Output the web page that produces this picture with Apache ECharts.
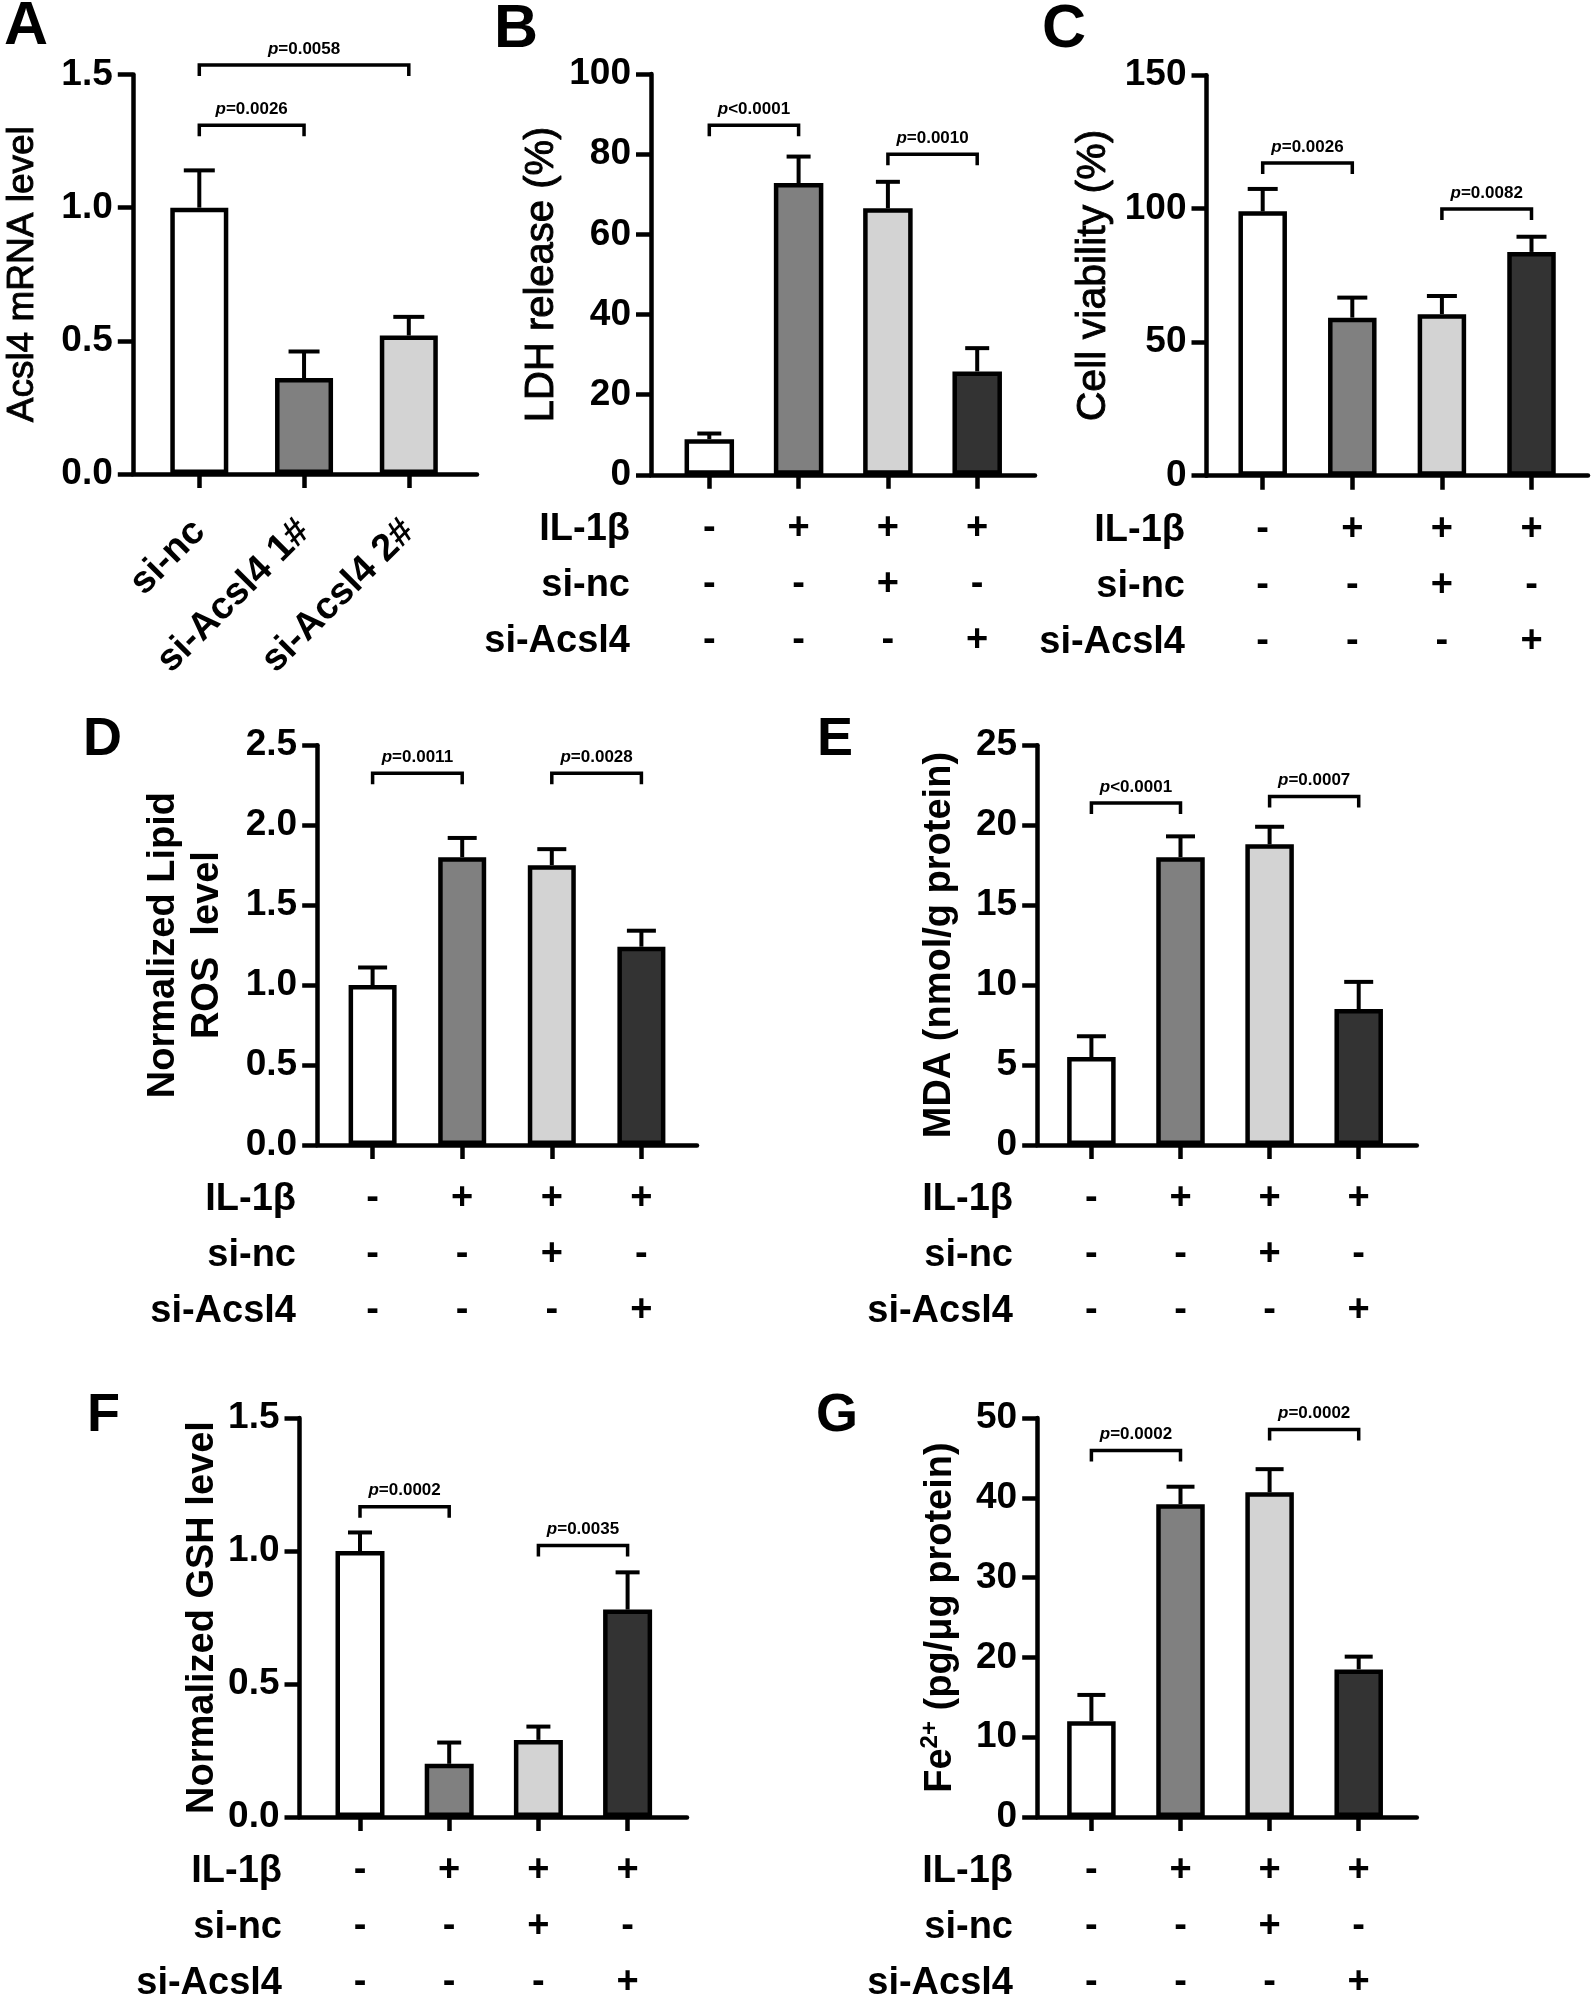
<!DOCTYPE html>
<html><head><meta charset="utf-8">
<script src="https://cdn.jsdelivr.net/npm/echarts@6/dist/echarts.min.js"></script>
<style>html,body{margin:0;padding:0;background:#fff}#chart{width:1593px;height:2002px}</style>
</head><body><div id="chart"></div>
<script>
// ---------------- DATA ----------------
const catsA = ['si-nc', 'si-Acsl4 1#', 'si-Acsl4 2#'];
const mrnaMean = [1.00, 0.36, 0.52];
const mrnaUpper = [1.14, 0.46, 0.59];

const il1b = ['-', '+', '+', '+'];
const siNc = ['-', '-', '+', '-'];
const siAcsl4 = ['-', '-', '-', '+'];
const rowNames = ['IL-1β', 'si-nc', 'si-Acsl4'];

const ldhMean = [8.9, 72.8, 66.5, 25.8];
const ldhUpper = [10.3, 79.4, 73.1, 31.6];
const viabMean = [99, 59.2, 60.5, 83.8];
const viabUpper = [107.4, 66.7, 67.3, 89.5];
const rosMean = [1.00, 1.80, 1.75, 1.24];
const rosUpper = [1.11, 1.92, 1.85, 1.34];
const mdaMean = [5.5, 18.0, 18.8, 8.5];
const mdaUpper = [6.8, 19.3, 19.9, 10.2];
const gshMean = [1.00, 0.20, 0.29, 0.78];
const gshUpper = [1.07, 0.28, 0.34, 0.92];
const feMean = [12.0, 39.2, 40.7, 18.5];
const feUpper = [15.3, 41.4, 43.6, 20.1];

const ticksA = [0, 0.5, 1.0, 1.5];
const ticksB = [0, 20, 40, 60, 80, 100];
const ticksC = [0, 50, 100, 150];
const ticksD = [0, 0.5, 1.0, 1.5, 2.0, 2.5];
const ticksE = [0, 5, 10, 15, 20, 25];
const ticksF = [0, 0.5, 1.0, 1.5];
const ticksG = [0, 10, 20, 30, 40, 50];

// significance brackets: group indices, bracket height (data units), p text
const sigA = [{from: 0, to: 1, y: 1.309, p: '=0.0026'}, {from: 0, to: 2, y: 1.536, p: '=0.0058'}];
const sigB = [{from: 0, to: 1, y: 87.2, p: '<0.0001'}, {from: 2, to: 3, y: 80.0, p: '=0.0010'}];
const sigC = [{from: 0, to: 1, y: 117.1, p: '=0.0026'}, {from: 2, to: 3, y: 99.9, p: '=0.0082'}];
const sigD = [{from: 0, to: 1, y: 2.324, p: '=0.0011'}, {from: 2, to: 3, y: 2.324, p: '=0.0028'}];
const sigE = [{from: 0, to: 1, y: 21.39, p: '<0.0001'}, {from: 2, to: 3, y: 21.79, p: '=0.0007'}];
const sigF = [{from: 0, to: 1, y: 1.167, p: '=0.0002'}, {from: 2, to: 3, y: 1.021, p: '=0.0035'}];
const sigG = [{from: 0, to: 1, y: 45.93, p: '=0.0002'}, {from: 2, to: 3, y: 48.57, p: '=0.0002'}];

// ---------------- STYLE / LAYOUT ----------------
const FONT = '"Liberation Sans", Arial, Helvetica, sans-serif';
const FILLS = ['#ffffff', '#808080', '#d3d3d3', '#333333'];
const AXW = 4.5;

const panels = [
  {letter: 'A', mean: mrnaMean, upper: mrnaUpper, ticks: ticksA, dec: 1, sig: sigA, cats: catsA,
   name: 'Acsl4 mRNA level',
   L: {axisX: 132.8, topY: 74.5, baseY: 474, endX: 477, firstTick: 199.3, step: 104.75, barW: 58, cap: 31,
       nameGap: 88, nameSize: 37, nameWeight: 'normal', lx: 4, ly: 27, lsize: 61}},
  {letter: 'B', mean: ldhMean, upper: ldhUpper, ticks: ticksB, dec: 0, sig: sigB,
   name: 'LDH release (%)',
   L: {axisX: 651, topY: 74.0, baseY: 474.8, endX: 1035, firstTick: 709.3, step: 89.3, barW: 49.5, cap: 24,
       nameGap: 87, nameSize: 40, nameWeight: 'normal', lx: 494, ly: 30, lsize: 61, rowX: 630}},
  {letter: 'C', mean: viabMean, upper: viabUpper, ticks: ticksC, dec: 0, sig: sigC,
   name: 'Cell viability (%)',
   L: {axisX: 1206.5, topY: 75.2, baseY: 475.7, endX: 1588, firstTick: 1262.7, step: 89.6, barW: 48.5, cap: 30,
       nameGap: 91, nameSize: 41, nameWeight: 'normal', lx: 1042, ly: 30, lsize: 61, rowX: 1185}},
  {letter: 'D', mean: rosMean, upper: rosUpper, ticks: ticksD, dec: 1, sig: sigD,
   name: 'Normalized Lipid\nROS  level',
   L: {axisX: 317.2, topY: 745.2, baseY: 1145, endX: 697, firstTick: 372.6, step: 89.6, barW: 48, cap: 29,
       nameGap: 88, nameSize: 38, nameWeight: 'bold', lx: 83, ly: 740, lsize: 54, rowX: 296}},
  {letter: 'E', mean: mdaMean, upper: mdaUpper, ticks: ticksE, dec: 0, sig: sigE,
   name: 'MDA (nmol/g protein)',
   L: {axisX: 1037.2, topY: 745.2, baseY: 1145, endX: 1416.8, firstTick: 1091.4, step: 89.1, barW: 48.5, cap: 29,
       nameGap: 76, nameSize: 38, nameWeight: 'bold', lx: 817, ly: 740, lsize: 54, rowX: 1013}},
  {letter: 'F', mean: gshMean, upper: gshUpper, ticks: ticksF, dec: 1, sig: sigF,
   name: 'Normalized GSH level',
   L: {axisX: 299.5, topY: 1418.1, baseY: 1817, endX: 687, firstTick: 360, step: 89.2, barW: 49, cap: 24,
       nameGap: 75, nameSize: 38, nameWeight: 'bold', lx: 87, ly: 1416, lsize: 54, rowX: 282}},
  {letter: 'G', mean: feMean, upper: feUpper, ticks: ticksG, dec: 0, sig: sigG,
   name: '{n|Fe}{s|2+}{n| (pg/μg protein)}',
   L: {axisX: 1037.2, topY: 1418.1, baseY: 1817, endX: 1416.8, firstTick: 1091.4, step: 89.1, barW: 48.5, cap: 28,
       nameGap: 75, nameSize: 38, nameWeight: 'bold', lx: 816, ly: 1416, lsize: 54, rowX: 1013}}
];

const grids = [], xAxes = [], yAxes = [], series = [], graphics = [];

panels.forEach((P, i) => {
  const L = P.L;
  const idx = P.mean.map((_, k) => k + 1);
  const xMin = 1 - (L.firstTick - L.axisX) / L.step;
  const xMax = xMin + (L.endX - L.axisX) / L.step;
  grids.push({left: L.axisX, top: L.topY, width: L.endX - L.axisX, height: L.baseY - L.topY,
              containLabel: false, outerBoundsMode: 'none'});

  const xLabel = P.cats ? {
      show: true, customValues: idx, rotate: 45, margin: 52,
      fontFamily: FONT, fontWeight: 'bold', fontSize: 38, color: '#000',
      formatter: v => P.cats[Math.round(v) - 1]
    } : {
      show: true, customValues: idx, margin: 26, lineHeight: 56,
      fontFamily: FONT, fontWeight: 'bold', fontSize: 38, color: '#000',
      formatter: v => { const k = Math.round(v) - 1; return il1b[k] + '\n' + siNc[k] + '\n' + siAcsl4[k]; }
    };

  xAxes.push({
    type: 'value', gridIndex: i, min: xMin, max: xMax,
    axisLine: {show: true, onZero: false, lineStyle: {color: '#000', width: AXW}},
    axisTick: {show: true, customValues: idx, length: 14, lineStyle: {color: '#000', width: AXW}},
    axisLabel: xLabel,
    splitLine: {show: false}
  });

  const t = P.ticks;
  const nameStyle = {fontFamily: FONT, fontSize: L.nameSize, fontWeight: L.nameWeight, color: '#000',
                     lineHeight: 44};
  if (L.nameWeight === 'normal') {
    nameStyle.textBorderColor = '#000';
    nameStyle.textBorderWidth = 0.9;
  }
  if (P.letter === 'G') {
    nameStyle.rich = {
      n: {fontFamily: FONT, fontSize: L.nameSize, fontWeight: 'bold', color: '#000', lineHeight: 44},
      s: {fontFamily: FONT, fontSize: 24, fontWeight: 'bold', color: '#000', lineHeight: 44, verticalAlign: 'top', padding: [0, 0, 14, 0]}
    };
  }
  yAxes.push({
    type: 'value', gridIndex: i, min: t[0], max: t[t.length - 1], interval: t[1] - t[0],
    axisLine: {show: true, onZero: false, lineStyle: {color: '#000', width: AXW}},
    axisTick: {show: true, length: 15, lineStyle: {color: '#000', width: AXW}},
    axisLabel: {show: true, margin: 20, fontFamily: FONT, fontWeight: 'bold', fontSize: 37, color: '#000',
                formatter: v => Number(v).toFixed(P.dec)},
    splitLine: {show: false},
    name: P.name, nameLocation: 'middle', nameGap: L.nameGap, nameTextStyle: nameStyle
  });

  series.push({
    type: 'bar', xAxisIndex: i, yAxisIndex: i, barWidth: L.barW, silent: true, animation: false,
    itemStyle: {borderColor: '#000', borderWidth: AXW},
    data: P.mean.map((v, k) => ({value: [k + 1, v], itemStyle: {color: FILLS[k]}})),
    z: 3
  });

  series.push({
    type: 'custom', xAxisIndex: i, yAxisIndex: i, silent: true, animation: false, clip: false, z: 4,
    encode: {x: 0, y: [1, 2]},
    data: P.mean.map((v, k) => [k + 1, v, P.upper[k]]),
    renderItem: (params, api) => {
      const x = api.value(0);
      const p0 = api.coord([x, api.value(1)]);
      const p1 = api.coord([x, api.value(2)]);
      const h = L.cap / 2;
      const st = {stroke: '#000', lineWidth: 4};
      return {type: 'group', children: [
        {type: 'line', shape: {x1: p0[0], y1: p0[1], x2: p1[0], y2: p1[1]}, style: st},
        {type: 'line', shape: {x1: p1[0] - h, y1: p1[1], x2: p1[0] + h, y2: p1[1]}, style: st}
      ]};
    }
  });

  series.push({
    type: 'custom', xAxisIndex: i, yAxisIndex: i, silent: true, animation: false, clip: false, z: 5,
    encode: {x: [0, 1], y: 2},
    data: P.sig.map(s => [s.from + 1, s.to + 1, s.y]),
    renderItem: (params, api) => {
      const s = P.sig[params.dataIndex];
      const a = api.coord([api.value(0), api.value(2)]);
      const b = api.coord([api.value(1), api.value(2)]);
      const leg = 11;
      return {type: 'group', children: [
        {type: 'polyline', shape: {points: [[a[0], a[1] + leg], [a[0], a[1]], [b[0], b[1]], [b[0], b[1] + leg]]},
         style: {stroke: '#000', lineWidth: 3.5, fill: null}},
        {type: 'text', x: (a[0] + b[0]) / 2, y: a[1] - 16,
         style: {text: '{i|p}{n|' + s.p + '}', align: 'center', verticalAlign: 'middle',
                 rich: {i: {fontFamily: FONT, fontStyle: 'italic', fontWeight: 'bold', fontSize: 17, fill: '#000'},
                        n: {fontFamily: FONT, fontWeight: 'bold', fontSize: 17, fill: '#000'}}}}
      ]};
    }
  });

  graphics.push({type: 'text', x: L.lx, y: L.ly, silent: true,
    style: {text: P.letter, font: 'bold ' + L.lsize + 'px ' + FONT, fill: '#000', align: 'left', verticalAlign: 'middle'}});

  if (!P.cats) {
    rowNames.forEach((r, k) => {
      graphics.push({type: 'text', x: L.rowX, y: L.baseY + 54.5 + k * 56, silent: true,
        style: {text: r, font: 'bold 38px ' + FONT, fill: '#000', align: 'right', verticalAlign: 'middle'}});
    });
  }
});

const chart = echarts.init(document.getElementById('chart'), null, {renderer: 'canvas', width: 1593, height: 2002});
chart.setOption({
  backgroundColor: '#ffffff',
  animation: false,
  grid: grids, xAxis: xAxes, yAxis: yAxes, series: series, graphic: graphics
});
</script></body></html>
